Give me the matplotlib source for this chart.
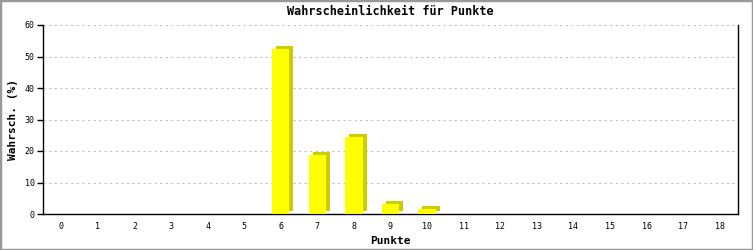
import matplotlib
matplotlib.use("Agg")
import matplotlib.pyplot as plt
from matplotlib.transforms import offset_copy
from matplotlib.patches import Rectangle

# data
punkte = list(range(0, 19))
wahrsch = [0, 0, 0, 0, 0, 0, 52.4, 18.8, 24.6, 3.2, 1.6, 0, 0, 0, 0, 0, 0, 0, 0]
yticks = [0, 10, 20, 30, 40, 50, 60]

plt.rcParams['font.family'] = ['DejaVu Sans Mono']

fig = plt.figure(figsize=(7.53, 2.5), dpi=100)
ax = fig.add_axes([43/753, 36/250, 695/753, 189/250])

# shadow bars (3d effect), shifted right/up in pixels
shadow = offset_copy(ax.transData, fig=fig, x=4, y=3, units='dots')
xs = [p for p, v in zip(punkte, wahrsch) if v > 0]
vs = [v for v in wahrsch if v > 0]
ax.bar(xs, vs, width=0.47, color='#cccc00', transform=shadow, zorder=2, clip_on=False)
ax.bar(xs, vs, width=0.47, color='#ffff00', zorder=3)

ax.set_xlim(-0.5, 18.5)
ax.set_ylim(0, 60)
ax.set_xticks(punkte)
ax.set_xticklabels([str(p) for p in punkte], fontsize=6)
ax.set_yticks(yticks)
ax.set_yticklabels([str(t) for t in yticks], fontsize=6)
ax.tick_params(axis='x', length=0, pad=6)
ax.tick_params(axis='y', length=4, width=1, pad=2)
ax.yaxis.grid(True, linestyle=(0, (2, 3)), color='#c0c0c0', linewidth=0.8)
ax.set_axisbelow(True)
ax.spines['top'].set_visible(False)
for s in ['left', 'right', 'bottom']:
    ax.spines[s].set_linewidth(1)

ax.set_title('Wahrscheinlichkeit für Punkte', fontsize=8.5, fontweight='bold', pad=7)
ax.set_xlabel('Punkte', fontsize=8, fontweight='bold', labelpad=3)
ax.set_ylabel('Wahrsch. (%)', fontsize=8, fontweight='bold', labelpad=5)

# gray frame around the picture
fig.patches.append(Rectangle((0, 0), 1, 1, transform=fig.transFigure, fill=False,
                             edgecolor='#999999', linewidth=2.5))

fig.savefig('out.png', dpi=100)
